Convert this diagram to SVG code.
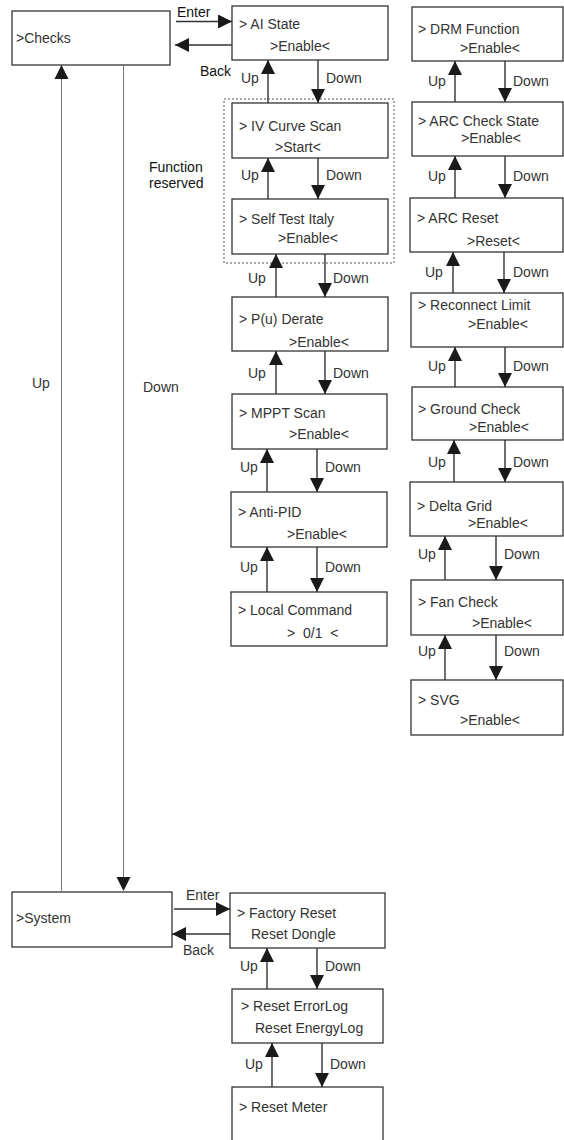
<svg xmlns="http://www.w3.org/2000/svg" width="564" height="1140" viewBox="0 0 564 1140">
<style>
.box{fill:#fff;stroke:#333;stroke-width:1.3}
.t{font-family:"Liberation Sans",Arial,sans-serif;font-size:14px;fill:#333}
.d{font-family:"Liberation Sans",Arial,sans-serif;font-size:14px;fill:#111}
.c{stroke:#333;stroke-width:1.4;fill:none;marker-end:url(#ah)}
.l{stroke:#777;stroke-width:1;fill:none}
</style>
<defs>
<marker id="ah" viewBox="0 0 14 14" refX="14" refY="7" markerWidth="14" markerHeight="14" markerUnits="userSpaceOnUse" orient="auto">
<path d="M0,0 L14,7 L0,14 z" fill="#1a1a1a"/>
</marker>
<marker id="ah2" viewBox="0 0 14 14" refX="14" refY="7" markerWidth="14" markerHeight="14" markerUnits="userSpaceOnUse" orient="auto">
<path d="M0,0 L14,7 L0,14 z" fill="#1a1a1a"/>
</marker>
</defs>

<rect x="224" y="99" width="170" height="164" fill="none" stroke="#555" stroke-width="1" stroke-dasharray="2 2"/>
<text class="d" x="149" y="172">Function</text>
<text class="d" x="149" y="188">reserved</text>

<g id="checks"><rect class="box" x="12" y="11" width="158" height="54"/><text class="t" x="16" y="43">&gt;Checks</text></g>
<g id="ai-state"><rect class="box" x="232" y="6" width="156" height="54"/><text class="t" x="239" y="29">&gt; AI State</text><text class="t" x="270" y="51">&gt;Enable&lt;</text></g>
<g id="iv-curve"><rect class="box" x="232" y="103" width="156" height="55"/><text class="t" x="239" y="131">&gt; IV Curve Scan</text><text class="t" x="275" y="152">&gt;Start&lt;</text></g>
<g id="self-test"><rect class="box" x="232" y="199" width="156" height="55"/><text class="t" x="239" y="224">&gt; Self Test Italy</text><text class="t" x="278" y="243">&gt;Enable&lt;</text></g>
<g id="pu-derate"><rect class="box" x="232" y="297" width="156" height="54"/><text class="t" x="239" y="324">&gt; P(u) Derate</text><text class="t" x="289" y="347">&gt;Enable&lt;</text></g>
<g id="mppt"><rect class="box" x="232" y="394" width="155" height="55"/><text class="t" x="239" y="418">&gt; MPPT Scan</text><text class="t" x="289" y="439">&gt;Enable&lt;</text></g>
<g id="anti-pid"><rect class="box" x="231" y="492" width="156" height="55"/><text class="t" x="238" y="517">&gt; Anti-PID</text><text class="t" x="287" y="539">&gt;Enable&lt;</text></g>
<g id="local-cmd"><rect class="box" x="231" y="592" width="156" height="54"/><text class="t" x="238" y="615">&gt; Local Command</text><text class="t" x="287" y="638" xml:space="preserve">&gt;  0/1  &lt;</text></g>

<g id="drm"><rect class="box" x="412" y="7" width="151" height="54"/><text class="t" x="418" y="34">&gt; DRM Function</text><text class="t" x="460" y="53">&gt;Enable&lt;</text></g>
<g id="arc-check"><rect class="box" x="412" y="102" width="151" height="54"/><text class="t" x="418" y="126">&gt; ARC Check State</text><text class="t" x="461" y="143">&gt;Enable&lt;</text></g>
<g id="arc-reset"><rect class="box" x="410" y="198" width="153" height="54"/><text class="t" x="417" y="223">&gt; ARC Reset</text><text class="t" x="467" y="246">&gt;Reset&lt;</text></g>
<g id="reconnect"><rect class="box" x="411" y="293" width="152" height="54"/><text class="t" x="418" y="310">&gt; Reconnect Limit</text><text class="t" x="468" y="329">&gt;Enable&lt;</text></g>
<g id="ground"><rect class="box" x="412" y="387" width="151" height="53"/><text class="t" x="418" y="414">&gt; Ground Check</text><text class="t" x="469" y="432">&gt;Enable&lt;</text></g>
<g id="delta"><rect class="box" x="410" y="482" width="153" height="54"/><text class="t" x="417" y="511">&gt; Delta Grid</text><text class="t" x="468" y="528">&gt;Enable&lt;</text></g>
<g id="fan"><rect class="box" x="411" y="580" width="152" height="55"/><text class="t" x="418" y="607">&gt; Fan Check</text><text class="t" x="472" y="628">&gt;Enable&lt;</text></g>
<g id="svg-node"><rect class="box" x="411" y="680" width="152" height="55"/><text class="t" x="418" y="705">&gt; SVG</text><text class="t" x="460" y="725">&gt;Enable&lt;</text></g>

<g id="system"><rect class="box" x="12" y="892" width="160" height="55"/><text class="t" x="16" y="923">&gt;System</text></g>
<g id="factory"><rect class="box" x="230" y="893" width="155" height="55"/><text class="t" x="237" y="918">&gt; Factory Reset</text><text class="t" x="251" y="939">Reset Dongle</text></g>
<g id="errorlog"><rect class="box" x="232" y="989" width="151" height="54"/><text class="t" x="241" y="1011">&gt; Reset ErrorLog</text><text class="t" x="255" y="1033">Reset EnergyLog</text></g>
<g id="meter"><rect class="box" x="232" y="1087" width="151" height="55"/><text class="t" x="239" y="1112">&gt; Reset Meter</text></g>

<g id="connectors">
<line class="c" x1="176" y1="21.5" x2="232" y2="21.5"/>
<line class="c" x1="232" y1="45" x2="175" y2="45"/>
<line class="c" x1="268" y1="103" x2="268" y2="60"/>
<line class="c" x1="318" y1="60" x2="318" y2="103"/>
<line class="c" x1="268" y1="199" x2="268" y2="158"/>
<line class="c" x1="318" y1="158" x2="318" y2="199"/>
<line class="c" x1="276" y1="297" x2="276" y2="254"/>
<line class="c" x1="325" y1="254" x2="325" y2="297"/>
<line class="c" x1="276" y1="394" x2="276" y2="351"/>
<line class="c" x1="325" y1="351" x2="325" y2="394"/>
<line class="c" x1="267" y1="492" x2="267" y2="449"/>
<line class="c" x1="317" y1="449" x2="317" y2="492"/>
<line class="c" x1="267" y1="592" x2="267" y2="547"/>
<line class="c" x1="317" y1="547" x2="317" y2="592"/>

<line class="c" x1="455" y1="102" x2="455" y2="61"/>
<line class="c" x1="505" y1="61" x2="505" y2="102"/>
<line class="c" x1="455" y1="198" x2="455" y2="156"/>
<line class="c" x1="505" y1="156" x2="505" y2="198"/>
<line class="c" x1="453" y1="293" x2="453" y2="252"/>
<line class="c" x1="504" y1="252" x2="504" y2="293"/>
<line class="c" x1="455" y1="387" x2="455" y2="347"/>
<line class="c" x1="505" y1="347" x2="505" y2="387"/>
<line class="c" x1="454" y1="482" x2="454" y2="440"/>
<line class="c" x1="505" y1="440" x2="505" y2="482"/>
<line class="c" x1="445" y1="580" x2="445" y2="536"/>
<line class="c" x1="496" y1="536" x2="496" y2="580"/>
<line class="c" x1="445" y1="680" x2="445" y2="635"/>
<line class="c" x1="496" y1="635" x2="496" y2="680"/>

<line class="l" x1="61.5" y1="891" x2="61.5" y2="78"/>
<path d="M61.5,65 L68.5,79 L54.5,79 z" fill="#1a1a1a"/>
<line class="l" x1="123.5" y1="65" x2="123.5" y2="878"/>
<path d="M123.5,891 L116.5,877 L130.5,877 z" fill="#1a1a1a"/>

<line class="c" x1="174" y1="909" x2="230" y2="909"/>
<line class="c" x1="230" y1="934" x2="172" y2="934"/>
<line class="c" x1="267" y1="989" x2="267" y2="948"/>
<line class="c" x1="317" y1="948" x2="317" y2="989"/>
<line class="c" x1="272" y1="1087" x2="272" y2="1043"/>
<line class="c" x1="322" y1="1043" x2="322" y2="1087"/>
</g>

<g id="labels">
<text class="d" x="177" y="17">Enter</text>
<text class="d" x="200" y="76">Back</text>
<text class="t" x="241" y="83">Up</text><text class="t" x="326" y="83">Down</text>
<text class="t" x="241" y="180">Up</text><text class="t" x="326" y="180">Down</text>
<text class="t" x="248" y="283">Up</text><text class="t" x="333" y="283">Down</text>
<text class="t" x="248" y="378">Up</text><text class="t" x="333" y="378">Down</text>
<text class="t" x="240" y="472">Up</text><text class="t" x="325" y="472">Down</text>
<text class="t" x="240" y="572">Up</text><text class="t" x="325" y="572">Down</text>

<text class="t" x="428" y="86">Up</text><text class="t" x="513" y="86">Down</text>
<text class="t" x="428" y="181">Up</text><text class="t" x="513" y="181">Down</text>
<text class="t" x="425" y="277">Up</text><text class="t" x="513" y="277">Down</text>
<text class="t" x="428" y="371">Up</text><text class="t" x="513" y="371">Down</text>
<text class="t" x="428" y="467">Up</text><text class="t" x="513" y="467">Down</text>
<text class="t" x="418" y="559">Up</text><text class="t" x="504" y="559">Down</text>
<text class="t" x="418" y="656">Up</text><text class="t" x="504" y="656">Down</text>

<text class="t" x="32" y="388">Up</text>
<text class="t" x="143" y="392">Down</text>

<text class="t" x="186" y="900">Enter</text>
<text class="t" x="183" y="955">Back</text>
<text class="t" x="240" y="971">Up</text><text class="t" x="325" y="971">Down</text>
<text class="t" x="245" y="1069">Up</text><text class="t" x="330" y="1069">Down</text>
</g>
</svg>
